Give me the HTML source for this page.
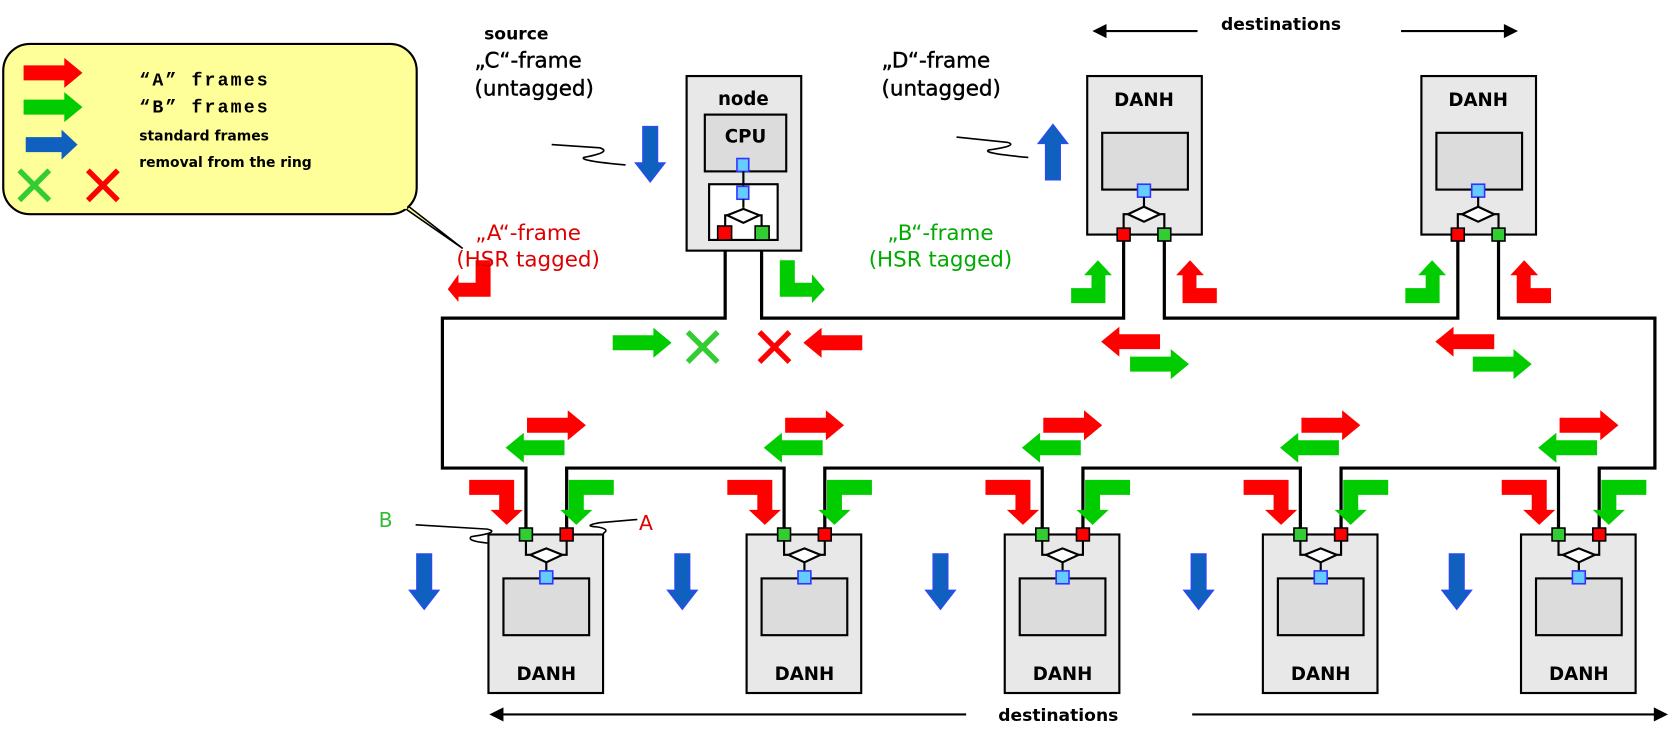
<!DOCTYPE html>
<html><head><meta charset="utf-8"><style>
html,body{margin:0;padding:0;background:#fff;}
svg{display:block;}
text{font-family:"DejaVu Sans","Liberation Sans",sans-serif;}
</style></head><body>
<svg width="1671" height="738" viewBox="0 0 1560 689" xmlns="http://www.w3.org/2000/svg">
<defs>
<polygon id="hR" points="0,-7 38,-7 38,-14 55,0 38,14 38,7 0,7"/>
<polygon id="vD" points="-7,0 7,0 7,34 14,34 0,52 -14,34 -7,34"/>
<polygon id="bD" points="0,0 42,0 42,28 50,28 35,42 20,28 28,28 28,14 0,14"/>
<g id="xm"><line x1="-14" y1="-14" x2="14" y2="14" stroke-width="5"/><line x1="14" y1="-14" x2="-14" y2="14" stroke-width="5"/></g>
<g id="botnode">
  <rect x="-54" y="0" width="107" height="148" fill="#e8e8e8" stroke="#000" stroke-width="2"/>
  <rect x="-40" y="41" width="80" height="53" fill="#dcdcdc" stroke="#000" stroke-width="2"/>
  <polyline points="-19,0 -19,19 -15,19" fill="none" stroke="#000" stroke-width="2"/>
  <polyline points="19,0 19,19 15,19" fill="none" stroke="#000" stroke-width="2"/>
  <polygon points="-15,19 0,13 15,19 0,26" fill="#fff" stroke="#000" stroke-width="2"/>
  <line x1="0" y1="26" x2="0" y2="36" stroke="#000" stroke-width="2"/>
  <rect x="-6" y="34" width="12" height="12" fill="#66ccff" stroke="#3333ff" stroke-width="1.5"/>
  <rect x="-25" y="-6" width="12" height="12" fill="#33cc33" stroke="#000" stroke-width="1.5"/>
  <rect x="13" y="-6" width="12" height="12" fill="#ff0000" stroke="#000" stroke-width="1.5"/>
  <text x="0" y="136" font-size="17" font-weight="bold" text-anchor="middle">DANH</text>
</g>
<g id="topnode">
  <rect x="-53" y="0" width="107" height="148" fill="#e8e8e8" stroke="#000" stroke-width="2"/>
  <text x="0" y="28" font-size="17" font-weight="bold" text-anchor="middle">DANH</text>
  <rect x="-39" y="53" width="80" height="53" fill="#dcdcdc" stroke="#000" stroke-width="2"/>
  <rect x="-6" y="101" width="12" height="12" fill="#66ccff" stroke="#3333ff" stroke-width="1.5"/>
  <line x1="0" y1="113" x2="0" y2="122" stroke="#000" stroke-width="2"/>
  <polygon points="-15,129 0,122 15,129 0,136" fill="#fff" stroke="#000" stroke-width="2"/>
  <polyline points="-15,129 -19,129 -19,148" fill="none" stroke="#000" stroke-width="2"/>
  <polyline points="15,129 19,129 19,148" fill="none" stroke="#000" stroke-width="2"/>
  <rect x="-25" y="142" width="12" height="12" fill="#ff0000" stroke="#000" stroke-width="1.5"/>
  <rect x="13" y="142" width="12" height="12" fill="#33cc33" stroke="#000" stroke-width="1.5"/>
</g>
<g id="botarrows">
  <use href="#hR" x="-18" y="397" fill="#ff0000"/>
  <use href="#hR" transform="translate(17,418) scale(-1,1)" fill="#00cc00"/>
  <use href="#bD" x="-72" y="448" fill="#ff0000"/>
  <use href="#bD" transform="translate(63,448) scale(-1,1)" fill="#00cc00"/>
  <use href="#vD" x="-114" y="517" fill="#1060c0" stroke="#3344ff" stroke-width="1"/>
</g>
</defs>

<!-- legend -->
<polygon points="360,182 378,190 432,232" fill="#ffff99" stroke="#000" stroke-width="1.5"/>
<rect x="3" y="41" width="386" height="159" rx="25" fill="#ffff99" stroke="#000" stroke-width="2"/>
<rect x="366" y="181" width="14" height="14" fill="#ffff99"/>
<use href="#hR" x="22" y="68" fill="#ff0000"/>
<use href="#hR" x="22" y="100" fill="#00cc00"/>
<use href="#hR" transform="translate(24,135) scale(0.88,1)" fill="#1060c0"/>
<use href="#xm" x="32" y="173" stroke="#33cc33"/>
<use href="#xm" x="96" y="173" stroke="#ff0000"/>
<text x="130" y="80" font-size="17" font-weight="bold" letter-spacing="2" style="font-family:'Liberation Mono',monospace">“A” frames</text>
<text x="130" y="105" font-size="17" font-weight="bold" letter-spacing="2" style="font-family:'Liberation Mono',monospace">“B” frames</text>
<text x="130" y="131" font-size="13" font-weight="bold">standard frames</text>
<text x="130" y="156" font-size="13" font-weight="bold">removal from the ring</text>

<!-- ring lines -->
<g fill="none" stroke="#000" stroke-width="3">
<polyline points="677,223 677,297 413,297 413,437 491,437 491,493"/>
<polyline points="711,223 711,297 1049,297 1049,225"/>
<polyline points="1087,225 1087,297 1361,297 1361,225"/>
<polyline points="1399,225 1399,297 1545,297 1545,437 1493,437 1493,493"/>
<polyline points="529,493 529,437 732,437 732,493"/>
<polyline points="770,493 770,437 973,437 973,493"/>
<polyline points="1011,493 1011,437 1214,437 1214,493"/>
<polyline points="1252,493 1252,437 1455,437 1455,493"/>
</g>

<!-- source node -->
<rect x="641" y="71" width="107" height="163" fill="#e8e8e8" stroke="#000" stroke-width="2"/>
<text x="694" y="98" font-size="17" font-weight="bold" text-anchor="middle">node</text>
<rect x="658" y="107" width="76" height="53" fill="#dcdcdc" stroke="#000" stroke-width="2"/>
<text x="696" y="133" font-size="17" font-weight="bold" text-anchor="middle">CPU</text>
<rect x="662" y="172" width="64" height="52" fill="#fff" stroke="#000" stroke-width="2"/>
<rect x="688" y="148" width="11" height="12" fill="#66ccff" stroke="#3333ff" stroke-width="1.5"/>
<line x1="694" y1="160" x2="694" y2="174" stroke="#000" stroke-width="2"/>
<rect x="688" y="174" width="11" height="12" fill="#66ccff" stroke="#3333ff" stroke-width="1.5"/>
<line x1="694" y1="186" x2="694" y2="194" stroke="#000" stroke-width="2"/>
<polygon points="679,201 694,195 709,201 694,208" fill="#fff" stroke="#000" stroke-width="2"/>
<polyline points="679,201 677,201 677,212" fill="none" stroke="#000" stroke-width="2"/>
<polyline points="709,201 711,201 711,212" fill="none" stroke="#000" stroke-width="2"/>
<rect x="670" y="211" width="13" height="13" fill="#ff0000" stroke="#000" stroke-width="1.5"/>
<rect x="705" y="211" width="13" height="13" fill="#33cc33" stroke="#000" stroke-width="1.5"/>

<!-- source arrows -->
<polygon points="458,243 444,243 444,264 428,264 428,256 418,270 428,282 428,277 458,277" fill="#ff0000"/>
<polygon points="728,243 742,243 742,264 758,264 758,256 770,270 758,283 758,277 728,277" fill="#00cc00"/>
<use href="#hR" x="572" y="320" fill="#00cc00"/>
<use href="#xm" x="656" y="324" stroke="#33cc33"/>
<use href="#xm" x="723" y="324" stroke="#ff0000"/>
<use href="#hR" transform="translate(805,320) scale(-1,1)" fill="#ff0000"/>
<use href="#vD" x="607" y="118" fill="#1060c0" stroke="#3344ff" stroke-width="1"/>
<use href="#vD" transform="translate(983,168) scale(1,-1)" fill="#1060c0" stroke="#3344ff" stroke-width="1"/>

<!-- top DANH -->
<use href="#topnode" x="1068" y="71"/>
<use href="#topnode" x="1380" y="71"/>
<g>
<polygon points="1000,283 1000,269 1019,269 1019,257 1012,257 1025,243 1038,257 1032,257 1032,283" fill="#00cc00"/>
<polygon points="1136,283 1136,269 1117,269 1117,257 1124,257 1111,243 1098,257 1104,257 1104,283" fill="#ff0000"/>
<use href="#hR" transform="translate(1083,319) scale(-1,1)" fill="#ff0000"/>
<use href="#hR" x="1055" y="340" fill="#00cc00"/>
</g>
<g transform="translate(312,0)">
<polygon points="1000,283 1000,269 1019,269 1019,257 1012,257 1025,243 1038,257 1032,257 1032,283" fill="#00cc00"/>
<polygon points="1136,283 1136,269 1117,269 1117,257 1124,257 1111,243 1098,257 1104,257 1104,283" fill="#ff0000"/>
<use href="#hR" transform="translate(1083,319) scale(-1,1)" fill="#ff0000"/>
<use href="#hR" x="1063" y="340" fill="#00cc00"/>
</g>

<!-- bottom nodes -->
<use href="#botnode" x="510" y="499"/>
<use href="#botnode" x="751" y="499"/>
<use href="#botnode" x="992" y="499"/>
<use href="#botnode" x="1233" y="499"/>
<use href="#botnode" x="1474" y="499"/>
<use href="#botarrows" x="510" y="0"/>
<use href="#botarrows" x="751" y="0"/>
<use href="#botarrows" x="992" y="0"/>
<use href="#botarrows" x="1233" y="0"/>
<use href="#botarrows" x="1474" y="0"/>

<!-- squiggles -->
<g fill="none" stroke="#000" stroke-width="1.5">
<path d="M515,135 L560,138 Q572,142 545,147 Q540,150 584,154"/>
<path d="M893,128 L941,133 Q951,136 923,140 Q916,143 960,147"/>
<path d="M388,490 L455,494 Q468,497 440,501 Q435,505 455,507"/>
<path d="M595,485 L560,488 Q543,491 558,492 Q570,494 563,498"/>
</g>

<!-- texts -->
<text x="482" y="37" font-size="16" font-weight="bold" text-anchor="middle">source</text>
<g font-size="20" stroke="#000" stroke-width="0.4">
<text x="443" y="63">„C“-frame</text>
<text x="443" y="89">(untagged)</text>
<text x="823" y="63">„D“-frame</text>
<text x="823" y="89">(untagged)</text>
</g>
<text x="493" y="224" font-size="20" fill="#dd0000" text-anchor="middle">„A“-frame</text>
<text x="493" y="249" font-size="20" fill="#dd0000" text-anchor="middle">(HSR tagged)</text>
<text x="878" y="224" font-size="20" fill="#00aa00" text-anchor="middle">„B“-frame</text>
<text x="878" y="249" font-size="20" fill="#00aa00" text-anchor="middle">(HSR tagged)</text>
<text x="360" y="492" font-size="19" fill="#33bb33" text-anchor="middle">B</text>
<text x="603" y="495" font-size="19" fill="#dd0000" text-anchor="middle">A</text>
<text x="1196" y="28" font-size="16" font-weight="bold" text-anchor="middle">destinations</text>
<text x="988" y="673" font-size="16" font-weight="bold" text-anchor="middle">destinations</text>
<g stroke="#000" stroke-width="2">
<line x1="1030" y1="29" x2="1118" y2="29"/><polygon points="1022,29 1032,24 1032,34"/>
<line x1="1308" y1="29" x2="1406" y2="29"/><polygon points="1415,29 1405,24 1405,34"/>
<line x1="468" y1="667" x2="902" y2="667"/><polygon points="459,667 469,662 469,672"/>
<line x1="1113" y1="667" x2="1546" y2="667"/><polygon points="1555,667 1545,662 1545,672"/>
</g>
<circle cx="1484" cy="703" r="12" fill="none" stroke="#888" stroke-width="3"/>
<line x1="1484" y1="705" x2="1560" y2="705" stroke="#e88" stroke-width="1"/>
</svg>
</body></html>
